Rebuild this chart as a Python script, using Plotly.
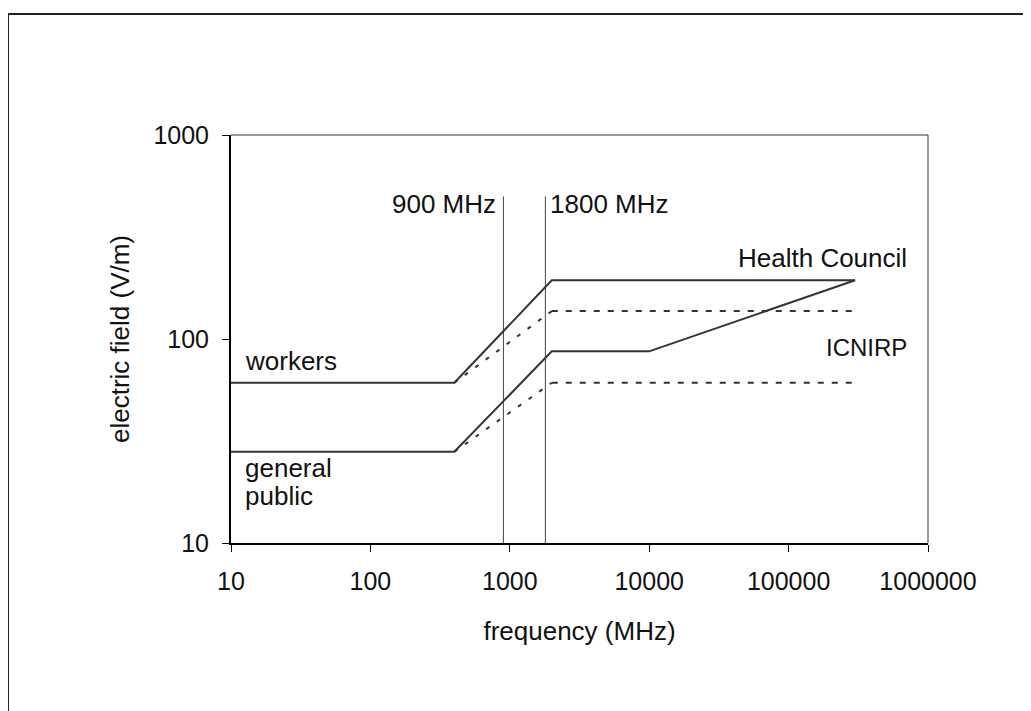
import plotly.graph_objects as go

# ---- data ----
hc_workers_freq = [10, 400, 2000, 300000]
hc_workers_e = [61, 61, 194, 194]
hc_public_freq = [10, 400, 2000, 10000, 300000]
hc_public_e = [28, 28, 87, 87, 194]
icnirp_freq = [400, 2000, 300000]
icnirp_workers_e = [61, 137, 137]
icnirp_public_e = [28, 61, 61]
gsm_freqs = [900, 1800]
gsm_labels = ["900 MHz", "1800 MHz"]
gsm_span = [10, 500]
x_ticks = [10, 100, 1000, 10000, 100000, 1000000]
y_ticks = [10, 100, 1000]

W, H = 1031, 711
OFF = 8  # page body margin
# plot area in screen pixels
L, R, T, B = 231, 928, 135, 543
FONT = "Liberation Sans, Arial, sans-serif"
FS = 26
TFS = 25
LINE = "#333333"


def px(xp):
    return (xp - L) / (R - L)


def py(yp):
    return (B - yp) / (B - T)


fig = go.Figure()

# vertical frequency markers
for f in gsm_freqs:
    fig.add_trace(go.Scatter(x=[f, f], y=gsm_span, mode="lines",
                             line=dict(color="#444444", width=1),
                             showlegend=False, hoverinfo="skip"))

# ICNIRP (dashed): sloped part and flat part
for e in (icnirp_workers_e, icnirp_public_e):
    fig.add_trace(go.Scatter(x=icnirp_freq[:2], y=e[:2], mode="lines",
                             line=dict(color=LINE, width=2, dash="4px,9px"),
                             showlegend=False, hoverinfo="skip"))
    fig.add_trace(go.Scatter(x=icnirp_freq[1:], y=e[1:], mode="lines",
                             line=dict(color=LINE, width=2, dash="6px,8px"),
                             showlegend=False, hoverinfo="skip"))

# Health Council (solid)
fig.add_trace(go.Scatter(x=hc_workers_freq, y=hc_workers_e, mode="lines",
                         line=dict(color=LINE, width=2),
                         showlegend=False, hoverinfo="skip"))
fig.add_trace(go.Scatter(x=hc_public_freq, y=hc_public_e, mode="lines",
                         line=dict(color=LINE, width=2),
                         showlegend=False, hoverinfo="skip"))

font = dict(family=FONT, size=FS, color="#111111")
tfont = dict(family=FONT, size=TFS, color="#111111")

annots = [
    dict(text="workers", x=px(243), y=py(361), xanchor="left", yanchor="middle"),
    dict(text="general", x=px(243), y=py(468), xanchor="left", yanchor="middle"),
    dict(text="public", x=px(243), y=py(496), xanchor="left", yanchor="middle"),
    dict(text=gsm_labels[0], x=px(498), y=py(204), xanchor="right", yanchor="middle"),
    dict(text=gsm_labels[1], x=px(548), y=py(204), xanchor="left", yanchor="middle"),
    dict(text="Health Council", x=px(736), y=py(258), xanchor="left", yanchor="middle"),
    dict(text="ICNIRP", x=px(824), y=py(347), xanchor="left", yanchor="middle",
         font=dict(family=FONT, size=24, color="#111111")),
]
for a in annots:
    a.update(xref="paper", yref="paper", showarrow=False)
    a.setdefault("font", font)

fig.update_layout(
    width=W, height=H,
    margin=dict(l=L - OFF, r=W - (R - OFF), t=T - OFF, b=H - (B - OFF)),
    paper_bgcolor="white", plot_bgcolor="white",
    font=font,
    annotations=annots,
    shapes=[
        # outer frame
        dict(type="rect", xref="paper", yref="paper",
             x0=px(8), x1=px(1045), y0=py(730), y1=py(14),
             line=dict(color="#222222", width=2)),
        # top and right plot frame
        dict(type="line", xref="paper", yref="paper", x0=0, x1=1, y0=1, y1=1,
             line=dict(color="#333333", width=1)),
        dict(type="line", xref="paper", yref="paper", x0=1, x1=1, y0=0, y1=1,
             line=dict(color="#333333", width=1)),
    ],
    xaxis=dict(
        type="log", range=[1, 6], tickvals=x_ticks,
        ticktext=[str(v) for v in x_ticks], tickfont=tfont,
        showgrid=False, zeroline=False, showline=True, linecolor="black", linewidth=2,
        ticks="outside", ticklen=7, tickcolor="black", tickwidth=1,
        ticklabelstandoff=8,
        title=dict(text="frequency (MHz)", font=font, standoff=28),
    ),
    yaxis=dict(
        type="log", range=[1, 3], tickvals=y_ticks,
        ticktext=[str(v) for v in y_ticks], tickfont=tfont,
        showgrid=False, zeroline=False, showline=True, linecolor="black", linewidth=2,
        ticks="outside", ticklen=7, tickcolor="black", tickwidth=1,
        ticklabelstandoff=8,
        title=dict(text="electric field (V/m)", font=font, standoff=16),
    ),
)

fig.write_html("out.html")
